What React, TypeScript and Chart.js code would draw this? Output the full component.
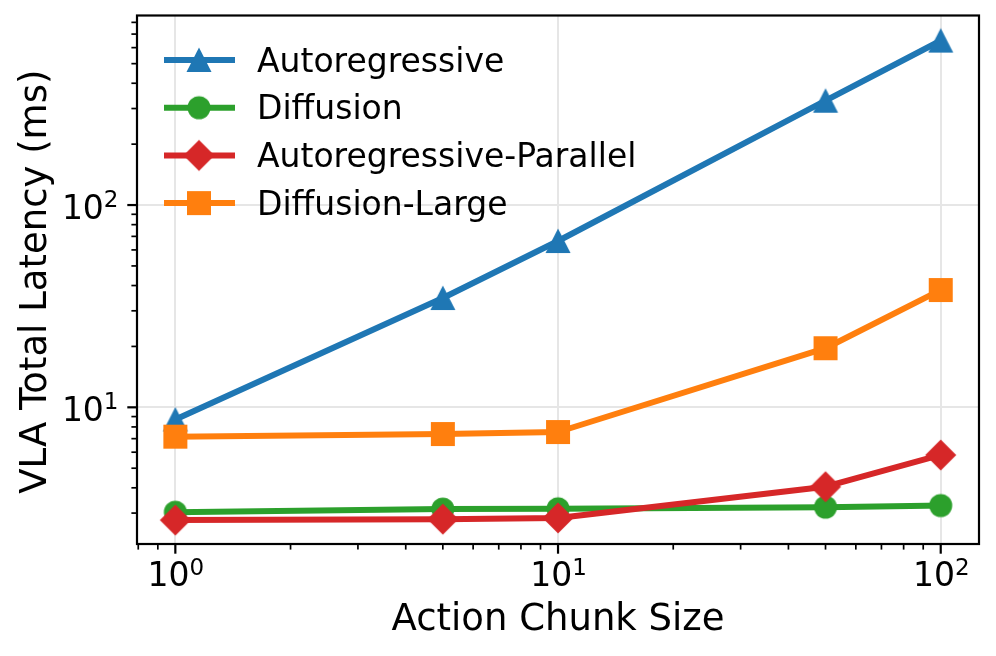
import React, { useEffect, useRef } from 'react';
import { Chart, registerables } from 'chart.js';

Chart.register(...registerables);

// ---- data ----
const chunkSizes = [1, 5, 10, 50, 100];
const autoregressive = [8.7, 34.7, 66.4, 328, 650];
const diffusion = [3.03, 3.14, 3.15, 3.21, 3.27];
const autoregressiveParallel = [2.77, 2.8, 2.84, 4.05, 5.81];
const diffusionLarge = [7.16, 7.38, 7.55, 19.6, 38.0];
const seriesNames = ['Autoregressive', 'Diffusion', 'Autoregressive-Parallel', 'Diffusion-Large'];
const seriesValues = [autoregressive, diffusion, autoregressiveParallel, diffusionLarge];
const xTickValues = [1, 10, 100];
const yTickValues = [10, 100];
const xTitle = 'Action Chunk Size';
const yTitle = 'VLA Total Latency (ms)';

// ---- styles ----
const colors = ['#1f77b4', '#2ca02c', '#d62728', '#ff7f0e'];
const shapes = ['triangle', 'circle', 'diamond', 'square'];
const FONT = '"DejaVu Sans", "Liberation Sans", sans-serif';

function makeMarker(shape: string, color: string): HTMLCanvasElement {
  const c = document.createElement('canvas');
  const S = 36;
  c.width = S;
  c.height = S;
  const ctx = c.getContext('2d')!;
  const m = S / 2;
  ctx.fillStyle = color;
  ctx.beginPath();
  if (shape === 'triangle') {
    ctx.moveTo(m, m - 12.5);
    ctx.lineTo(m + 12.5, m + 12);
    ctx.lineTo(m - 12.5, m + 12);
    ctx.closePath();
  } else if (shape === 'circle') {
    ctx.arc(m, m, 11.5, 0, Math.PI * 2);
  } else if (shape === 'diamond') {
    ctx.moveTo(m, m - 15.5);
    ctx.lineTo(m + 15.5, m);
    ctx.lineTo(m, m + 15.5);
    ctx.lineTo(m - 15.5, m);
    ctx.closePath();
  } else {
    ctx.rect(m - 12, m - 12, 24, 24);
  }
  ctx.fill();
  return c;
}

function drawPow(ctx: CanvasRenderingContext2D, value: number, anchorX: number, baseY: number, align: string) {
  const base = '10';
  const exp = String(Math.round(Math.log10(value)));
  const mainFont = `33px ${FONT}`;
  const supFont = `23px ${FONT}`;
  ctx.font = mainFont;
  const wb = ctx.measureText(base).width;
  ctx.font = supFont;
  const we = ctx.measureText(exp).width;
  const total = wb + we;
  const x0 = align === 'center' ? anchorX - total / 2 : anchorX - total;
  ctx.textAlign = 'left';
  ctx.textBaseline = 'alphabetic';
  ctx.fillStyle = '#000';
  ctx.font = mainFont;
  ctx.fillText(base, x0, baseY);
  ctx.font = supFont;
  ctx.fillText(exp, x0 + wb, baseY - 11.5);
}

function makeDecorPlugin(markers: HTMLCanvasElement[]) {
  return {
    id: 'mplDecor',
    afterDraw(chart: any) {
      const { ctx, chartArea: a, scales } = chart;
      const xs = scales.x;
      const ys = scales.y;
      ctx.save();
      ctx.strokeStyle = '#000';
      ctx.lineCap = 'butt';
      const line = (x1: number, y1: number, x2: number, y2: number, w: number) => {
        ctx.lineWidth = w;
        ctx.beginPath();
        ctx.moveTo(x1, y1);
        ctx.lineTo(x2, y2);
        ctx.stroke();
      };
      const decades = [0.1, 1, 10, 100, 1000];
      // x ticks
      for (const d of decades) {
        for (let k = 1; k <= 9; k++) {
          const v = d * k;
          if (v < xs.min || v > xs.max) continue;
          const px = xs.getPixelForValue(v);
          const major = k === 1;
          line(px, a.bottom, px, a.bottom + (major ? 9.7 : 5.6), major ? 2.2 : 1.7);
        }
      }
      // y ticks
      for (const d of decades) {
        for (let k = 1; k <= 9; k++) {
          const v = d * k;
          if (v < ys.min || v > ys.max) continue;
          const py = ys.getPixelForValue(v);
          const major = k === 1;
          line(a.left - (major ? 9.7 : 5.6), py, a.left, py, major ? 2.2 : 1.7);
        }
      }
      // frame
      ctx.lineWidth = 2.2;
      ctx.strokeRect(a.left, a.top, a.right - a.left, a.bottom - a.top);

      // tick labels
      for (const v of xTickValues) {
        drawPow(ctx, v, xs.getPixelForValue(v) + 0.5, a.bottom + 42, 'center');
      }
      for (const v of yTickValues) {
        drawPow(ctx, v, a.left - 18.5, ys.getPixelForValue(v) + 13.5, 'right');
      }

      // axis titles
      ctx.fillStyle = '#000';
      ctx.font = `37px ${FONT}`;
      ctx.textAlign = 'center';
      ctx.textBaseline = 'alphabetic';
      ctx.fillText(xTitle, (a.left + a.right) / 2, a.bottom + 86);
      ctx.save();
      ctx.translate(45.5, (a.top + a.bottom) / 2 + 2);
      ctx.rotate(-Math.PI / 2);
      ctx.fillText(yTitle, 0, 0);
      ctx.restore();

      // legend (no frame)
      seriesNames.forEach((name, i) => {
        const cy = a.top + 44.5 + i * 47.7;
        ctx.strokeStyle = colors[i];
        ctx.lineWidth = 6;
        ctx.lineCap = 'square';
        ctx.beginPath();
        ctx.moveTo(a.left + 30, cy);
        ctx.lineTo(a.left + 95, cy);
        ctx.stroke();
        const mk = markers[i];
        ctx.drawImage(mk, a.left + 62 - mk.width / 2, cy - mk.height / 2);
        ctx.fillStyle = '#000';
        ctx.font = `33px ${FONT}`;
        ctx.textAlign = 'left';
        ctx.fillText(name, a.left + 120, cy + 11.5);
      });
      ctx.restore();
    },
  };
}

export default function App() {
  const ref = useRef<HTMLCanvasElement>(null);

  useEffect(() => {
    const canvas = ref.current;
    if (!canvas) return;
    const markers = shapes.map((s, i) => makeMarker(s, colors[i]));
    const datasets = seriesNames.map((name, i) => ({
      label: name,
      data: chunkSizes.map((c, j) => ({ x: c, y: seriesValues[i][j] })),
      showLine: true,
      borderColor: colors[i],
      backgroundColor: colors[i],
      borderWidth: 6,
      borderCapStyle: 'square' as const,
      borderJoinStyle: 'round' as const,
      pointStyle: markers[i] as any,
      pointRadius: 12,
      pointHoverRadius: 12,
      pointBorderWidth: 0,
      tension: 0,
      order: 3 - i,
      clip: false as any,
    }));

    const chart = new Chart(canvas, {
      type: 'scatter',
      data: { datasets },
      options: {
        responsive: false,
        animation: false,
        events: [],
        layout: { padding: { left: 0, top: 15.5, right: 17, bottom: 0 } },
        plugins: {
          legend: { display: false },
          tooltip: { enabled: false },
        },
        scales: {
          x: {
            type: 'logarithmic',
            position: 'bottom',
            min: 0.794,
            max: 125.9,
            ticks: { display: false },
            border: { display: false },
            grid: { color: '#e6e6e6', lineWidth: 2, drawTicks: false },
            afterBuildTicks: (s: any) => {
              s.ticks = xTickValues.map((v) => ({ value: v }));
            },
            afterFit: (s: any) => {
              s.height = 112;
            },
          },
          y: {
            type: 'logarithmic',
            position: 'left',
            min: 2.11,
            max: 865,
            ticks: { display: false },
            border: { display: false },
            grid: { color: '#e6e6e6', lineWidth: 2, drawTicks: false },
            afterBuildTicks: (s: any) => {
              s.ticks = yTickValues.map((v) => ({ value: v }));
            },
            afterFit: (s: any) => {
              s.width = 137;
            },
          },
        },
      } as any,
      plugins: [makeDecorPlugin(markers)],
    });
    return () => chart.destroy();
  }, []);

  return (
    <div style={{ position: 'fixed', left: 0, top: 0, width: 996, height: 656, background: '#fff' }}>
      <canvas ref={ref} width={996} height={656} style={{ display: 'block', width: 996, height: 656 }} />
    </div>
  );
}
